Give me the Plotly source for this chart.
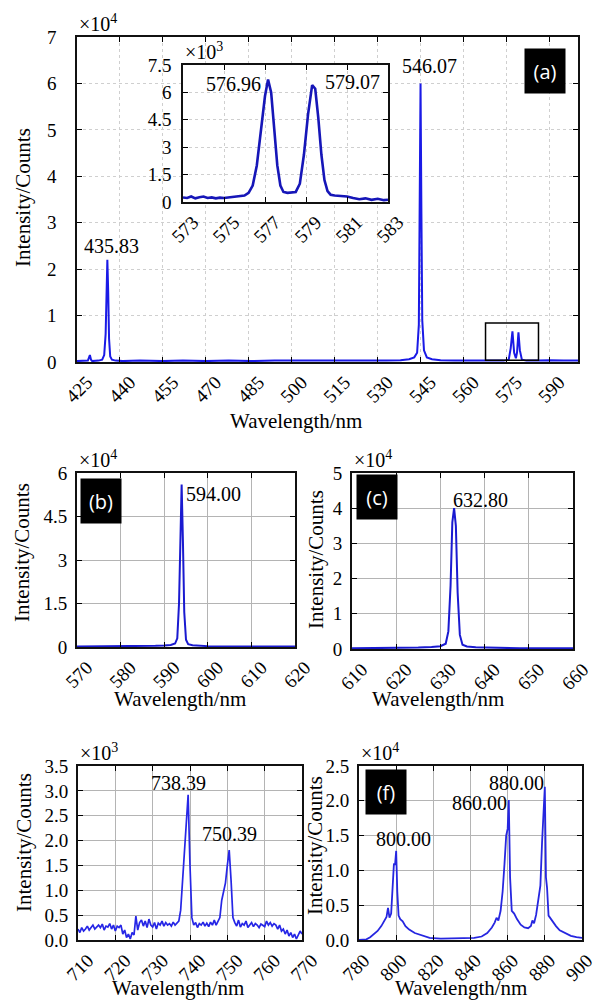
import plotly.graph_objects as go

SERIF = "Liberation Serif, Times New Roman, serif"
SANS = "Open Sans, Noto Sans, sans-serif"

# ---------------- data ----------------
# (a) main spectrum, intensity in 1e4 counts
a_x = [425.0, 427.0, 428.8, 429.5, 429.9, 430.3, 431.0, 432.5, 433.8, 434.5, 435.0, 435.3, 435.6, 435.9,
       436.2, 436.6, 437.2, 438.5, 441.0, 447.0, 455.0, 462.0, 470.0, 478.0, 486.0, 494.0, 502.0, 510.0,
       518.0, 526.0, 533.0, 538.0, 541.0, 542.8, 543.8, 544.4, 544.7, 545.0, 545.3, 545.6, 546.2, 547.2,
       549.0, 552.0, 557.0, 563.0, 569.0, 574.0, 575.8, 576.5, 577.1, 577.7, 578.3, 578.7, 579.2, 579.7,
       580.4, 582.0, 586.0, 590.0, 595.0, 600.0]
a_y = [0.02, 0.02, 0.03, 0.15, 0.05, 0.02, 0.02, 0.03, 0.05, 0.15, 0.6, 1.6, 2.2, 1.5,
       0.5, 0.12, 0.05, 0.03, 0.02, 0.03, 0.02, 0.03, 0.02, 0.03, 0.02, 0.03, 0.03, 0.02,
       0.03, 0.03, 0.03, 0.04, 0.06, 0.1, 0.2, 0.8, 3.0, 6.0, 3.2, 0.9, 0.25, 0.1,
       0.06, 0.04, 0.03, 0.03, 0.03, 0.03, 0.05, 0.3, 0.66, 0.2, 0.08, 0.2, 0.64, 0.25,
       0.05, 0.03, 0.03, 0.04, 0.03, 0.03]
a_ticks = [425, 440, 455, 470, 485, 500, 515, 530, 545, 560, 575, 590]

# (a) inset, intensity in 1e3 counts
in_x = [573.0, 573.2, 573.4, 573.6, 573.8, 574.0, 574.2, 574.4, 574.6, 574.8, 575.0, 575.2, 575.4, 575.6,
        575.8, 576.0, 576.2, 576.4, 576.6, 576.8, 577.0, 577.15, 577.3, 577.45, 577.6, 577.75, 577.9,
        578.1, 578.3, 578.5, 578.7, 578.9, 579.1, 579.3, 579.45, 579.6, 579.75, 579.9, 580.05, 580.2,
        580.4, 580.6, 580.8, 581.0, 581.3, 581.6, 581.9, 582.2, 582.5, 582.8, 583.0]
in_y = [0.25, 0.22, 0.3, 0.2, 0.26, 0.3, 0.22, 0.25, 0.2, 0.24, 0.22, 0.25, 0.26, 0.27,
        0.3, 0.35, 0.5, 0.9, 2.0, 4.0, 5.8, 6.7, 6.0, 4.0, 2.0, 0.9, 0.55,
        0.5, 0.52, 0.55, 1.0, 2.6, 4.8, 6.4, 6.2, 4.6, 2.6, 1.2, 0.6, 0.4,
        0.36, 0.35, 0.32, 0.3, 0.22, 0.15, 0.2, 0.12, 0.18, 0.1, 0.12]
in_ticks = [573, 575, 577, 579, 581, 583]
in_yticks = [0, 1.5, 3, 4.5, 6, 7.5]

# (b) 1e4 counts
b_x = [570, 575, 580, 585, 588, 590, 591.5, 592.5, 593.0, 593.4, 593.7, 594.0, 594.3, 594.6, 595.0,
       595.5, 596.5, 598, 600, 605, 610, 615, 620]
b_y = [0.02, 0.02, 0.02, 0.03, 0.04, 0.05, 0.07, 0.12, 0.3, 1.5, 3.8, 5.6, 3.6, 1.2, 0.25,
       0.1, 0.06, 0.04, 0.03, 0.02, 0.02, 0.02, 0.02]

# (c) 1e4 counts
c_x = [610, 615, 620, 625, 628, 630, 631.2, 631.8, 632.3, 632.7, 633.1, 633.5, 633.9, 634.4, 635,
       636, 638, 642, 648, 655, 660]
c_y = [0.02, 0.02, 0.03, 0.04, 0.06, 0.08, 0.15, 0.5, 1.8, 3.6, 4.0, 3.5, 1.6, 0.4, 0.12,
       0.07, 0.05, 0.03, 0.02, 0.02, 0.02]

# (e) 1e3 counts
e_x = [710.0, 710.5, 711.0, 711.5, 712.0, 712.5, 713.0, 713.5, 714.0, 714.5, 715.0, 715.5, 716.0, 716.5,
       717.0, 717.5, 718.0, 718.5, 719.0, 719.5, 720.0, 720.5, 721.0, 721.5, 722.0, 722.5, 723.0, 723.5,
       724.0, 724.5, 725.0, 725.5, 726.0, 726.5, 727.0, 727.5, 728.0, 728.5, 729.0, 729.5, 730.0, 730.5,
       731.0, 731.5, 732.0, 732.5, 733.0, 733.5, 734.0, 734.5, 735.0, 735.5, 736.0, 736.5, 737.0, 737.5,
       738.0, 738.5, 739.0, 739.5, 740.0, 740.5, 741.0, 741.5, 742.0, 742.5, 743.0, 743.5, 744.0, 744.5,
       745.0, 745.5, 746.0, 746.5, 747.0, 747.5, 748.0, 748.5, 749.0, 749.5, 750.0, 750.5, 751.0, 751.5,
       752.0, 752.5, 753.0, 753.5, 754.0, 754.5, 755.0, 755.5, 756.0, 756.5, 757.0, 757.5, 758.0, 758.5,
       759.0, 759.5, 760.0, 760.5, 761.0, 761.5, 762.0, 762.5, 763.0, 763.5, 764.0, 764.5, 765.0, 765.5,
       766.0, 766.5, 767.0, 767.5, 768.0, 768.5, 769.0, 769.5, 770.0]
e_y = [0.22, 0.15, 0.25, 0.18, 0.22, 0.28, 0.2, 0.24, 0.3, 0.22, 0.27, 0.3, 0.25, 0.32,
       0.2, 0.28, 0.26, 0.33, 0.22, 0.3, 0.18, 0.28, 0.25, 0.3, 0.12, 0.2, 0.05, 0.12,
       0.02, 0.15, 0.1, 0.48, 0.2, 0.35, 0.4, 0.28, 0.38, 0.25, 0.42, 0.3, 0.26, 0.35,
       0.22, 0.34, 0.3, 0.38, 0.28, 0.35, 0.3, 0.33, 0.28, 0.36, 0.3, 0.35, 0.38, 0.6,
       1.2, 1.6, 2.3, 2.92, 1.5, 0.45, 0.3, 0.35, 0.25, 0.33, 0.3, 0.36, 0.28, 0.34,
       0.27, 0.36, 0.3, 0.4, 0.3, 0.38, 0.45, 0.8, 1.0, 1.15, 1.5, 1.81, 1.2, 0.45,
       0.35, 0.28, 0.4, 0.26, 0.33, 0.3, 0.38, 0.25, 0.3, 0.35, 0.27, 0.33, 0.3, 0.25,
       0.32, 0.3, 0.27, 0.38, 0.3, 0.35, 0.28, 0.33, 0.3, 0.22, 0.3, 0.18, 0.22, 0.12,
       0.2, 0.08, 0.15, 0.05, 0.12, 0.02, 0.1, 0.18, 0.12]

# (f) 1e4 counts
f_x = [780, 782, 784, 786, 788, 790, 792, 793.5, 794.8, 795.6, 796.4, 797.3, 798.2, 798.8, 799.4, 800.0,
       800.6, 801.3, 802.2, 803.5, 805, 807, 810, 814, 818, 824, 830, 836, 842, 846, 849, 851.5, 853,
       854, 855, 856.2, 857.3, 858.3, 859.2, 860.0, 860.6, 861.3, 862.2, 863.5, 865, 867, 869, 871,
       872.5, 873.3, 874.2, 875.3, 876.5, 877.6, 878.5, 879.3, 880.0, 880.6, 881.2, 882, 883.2, 884.5,
       886, 888, 891, 894, 897, 900]
f_y = [0.0, 0.0, 0.01, 0.04, 0.08, 0.13, 0.2, 0.26, 0.33, 0.46, 0.32, 0.38, 0.9, 1.1, 1.08, 1.28,
       0.7, 0.35, 0.3, 0.27, 0.2, 0.15, 0.1, 0.06, 0.03, 0.02, 0.02, 0.02, 0.03, 0.05, 0.1, 0.18, 0.25,
       0.32, 0.28, 0.42, 0.7, 1.1, 1.5, 1.6, 2.01, 0.9, 0.42, 0.38, 0.3, 0.22, 0.18, 0.17,
       0.2, 0.28, 0.24, 0.36, 0.6, 0.78, 1.4, 1.8, 2.2, 0.9, 0.75, 0.35, 0.3, 0.26,
       0.2, 0.14, 0.1, 0.06, 0.04, 0.03]

# ---------------- figure ----------------
W, H = 598, 1000

def px_x(v):
    return v / W

def px_y(v):
    return 1 - v / H

fig = go.Figure()
fig.add_trace(go.Scatter(x=a_x, y=a_y, xaxis="x", yaxis="y", mode="lines",
                         line=dict(color="#1a1ae6", width=2)))
fig.add_trace(go.Scatter(x=in_x, y=in_y, xaxis="x2", yaxis="y2", mode="lines",
                         line=dict(color="#1616b8", width=2.6)))
fig.add_trace(go.Scatter(x=b_x, y=b_y, xaxis="x3", yaxis="y3", mode="lines",
                         line=dict(color="#1a1ad0", width=2)))
fig.add_trace(go.Scatter(x=c_x, y=c_y, xaxis="x4", yaxis="y4", mode="lines",
                         line=dict(color="#1a1ad0", width=2)))
fig.add_trace(go.Scatter(x=e_x, y=e_y, xaxis="x5", yaxis="y5", mode="lines",
                         line=dict(color="#2626e6", width=1.7)))
fig.add_trace(go.Scatter(x=f_x, y=f_y, xaxis="x6", yaxis="y6", mode="lines",
                         line=dict(color="#2626e0", width=1.8)))

tickfont = dict(family=SERIF, size=19, color="black")


def xax(domain, rng, tickvals, anchor, light=False, shift=10):
    return dict(domain=domain, range=rng, tickvals=tickvals, tickangle=-45, anchor=anchor,
                automargin=False, ticklabeloverflow="allow",
                ticks="inside", ticklen=5, tickwidth=1.2, tickcolor="black", mirror="allticks",
                showline=True, linecolor="#111", linewidth=1.5 if light else 2,
                showgrid=True, gridcolor="#cfcfcf" if light else "#b4b4b4",
                gridwidth=1 if light else 1.4, griddash="dot" if light else "solid",
                zeroline=False, tickfont=tickfont, ticklabelstandoff=0, ticklabelshift=shift)


def yax(domain, rng, tickvals, anchor, ticktext=None, light=False, standoff=4):
    d = dict(domain=domain, range=rng, tickvals=tickvals, anchor=anchor, automargin=False,
             ticklabeloverflow="allow",
             ticks="inside", ticklen=5, tickwidth=1.2, tickcolor="black", mirror="allticks",
             showline=True, linecolor="#111", linewidth=1.5 if light else 2,
             showgrid=True, gridcolor="#cfcfcf" if light else "#b4b4b4",
             gridwidth=1 if light else 1.4, griddash="dot" if light else "solid",
             zeroline=False, tickfont=tickfont, ticklabelstandoff=standoff)
    if ticktext is not None:
        d["ticktext"] = ticktext
    return d


fig.update_layout(
    template="none",
    width=W, height=H, margin=dict(l=0, r=0, t=0, b=0, pad=0, autoexpand=False),
    paper_bgcolor="white", plot_bgcolor="white", showlegend=False,
    font=dict(family=SERIF, size=19, color="black"),
    xaxis=xax([px_x(77), px_x(578)], [425, 600], a_ticks, "y", light=True),
    yaxis=yax([px_y(362), px_y(37)], [0, 7], [0, 1, 2, 3, 4, 5, 6, 7], "x", light=True, standoff=15),
    xaxis2=xax([px_x(183), px_x(388)], [573, 583], in_ticks, "y2", light=True),
    yaxis2=yax([px_y(202), px_y(65)], [0, 7.5], in_yticks, "x2",
               ticktext=["0", "1.5", "3", "4.5", "6", "7.5"], light=True, standoff=6),
    xaxis3=xax([px_x(77), px_x(295)], [570, 620], [570, 580, 590, 600, 610, 620], "y3"),
    yaxis3=yax([px_y(647), px_y(473)], [0, 6], [0, 1.5, 3, 4.5, 6], "x3",
               ticktext=["0", "1.5", "3", "4.5", "6"]),
    xaxis4=xax([px_x(352), px_x(573)], [610, 660], [610, 620, 630, 640, 650, 660], "y4"),
    yaxis4=yax([px_y(649), px_y(473)], [0, 5], [0, 1, 2, 3, 4, 5], "x4"),
    xaxis5=xax([px_x(78), px_x(302)], [710, 770], [710, 720, 730, 740, 750, 760, 770], "y5"),
    yaxis5=yax([px_y(940), px_y(766)], [0, 3.5], [0, 0.5, 1, 1.5, 2, 2.5, 3, 3.5], "x5",
               ticktext=["0.0", "0.5", "1.0", "1.5", "2.0", "2.5", "3.0", "3.5"]),
    xaxis6=xax([px_x(359), px_x(582)], [780, 900], [780, 800, 820, 840, 860, 880, 900], "y6",
               shift=5),
    yaxis6=yax([px_y(940), px_y(766)], [0, 2.5], [0, 0.5, 1, 1.5, 2, 2.5], "x6",
               ticktext=["0.0", "0.5", "1.0", "1.5", "2.0", "2.5"]),
)

# inset background and zoom box
fig.add_shape(type="rect", xref="x2", yref="y2", x0=573, x1=583, y0=0, y1=7.5,
              fillcolor="white", line=dict(width=0), layer="below")
fig.add_shape(type="rect", xref="x", yref="y", x0=567.7, x1=586.2, y0=0.04, y1=0.84,
              line=dict(color="black", width=1.5), fillcolor="rgba(0,0,0,0)")

lab = dict(family=SERIF, size=20, color="black")
ttl = dict(family=SERIF, size=21, color="black")
ann = []

# peak labels
peaks = [
    ("x", "y", 548.1, 6.38, "546.07"),
    ("x", "y", 437.0, 2.5, "435.83"),
    ("x2", "y2", 575.45, 6.45, "576.96"),
    ("x2", "y2", 581.25, 6.55, "579.07"),
    ("x3", "y3", 601.4, 5.28, "594.00"),
    ("x4", "y4", 639.0, 4.24, "632.80"),
    ("x5", "y5", 736.8, 3.16, "738.39"),
    ("x5", "y5", 750.7, 2.13, "750.39"),
    ("x6", "y6", 804.2, 1.45, "800.00"),
    ("x6", "y6", 844.6, 1.97, "860.00"),
    ("x6", "y6", 864.5, 2.26, "880.00"),
]
for xr, yr, x, y, t in peaks:
    ann.append(dict(xref=xr, yref=yr, x=x, y=y, text=t, showarrow=False, font=lab,
                    xanchor="center", yanchor="middle"))

# exponent labels
for xr, yr, t in [("x", "y", "×10<sup>4</sup>"), ("x2", "y2", "×10<sup>3</sup>"),
                  ("x3", "y3", "×10<sup>4</sup>"), ("x4", "y4", "×10<sup>4</sup>"),
                  ("x5", "y5", "×10<sup>3</sup>"), ("x6", "y6", "×10<sup>4</sup>")]:
    ann.append(dict(xref=xr + " domain", yref=yr + " domain", x=0, y=1, text=t, showarrow=False,
                    font=lab, xanchor="left", yanchor="bottom", yshift=0))

# axis titles
for x, y in [(23, 198), (22, 553), (316, 560), (24, 843), (315, 846)]:
    ann.append(dict(xref="paper", yref="paper", x=px_x(x), y=px_y(y), text="Intensity/Counts",
                    textangle=-90, showarrow=False, font=ttl, xanchor="center", yanchor="middle"))
for x, y in [(296, 421), (180, 699), (438, 699), (178, 988), (461, 988)]:
    ann.append(dict(xref="paper", yref="paper", x=px_x(x), y=px_y(y), text="Wavelength/nm",
                    showarrow=False, font=ttl, xanchor="center", yanchor="middle"))

# panel tags
for x, y, t in [(545, 71, "(a)"), (101, 501, "(b)"), (377, 497, "(c)"), (386, 792, "(f)")]:
    ann.append(dict(xref="paper", yref="paper", x=px_x(x), y=px_y(y), text=t, showarrow=False,
                    font=dict(family=SANS, size=20, color="white"), bgcolor="black",
                    width=38, height=42, xanchor="center", yanchor="middle"))

fig.update_layout(annotations=ann)
fig.write_html("out.html", config={"displayModeBar": False},
               post_script="document.body.style.margin='0';document.body.style.overflow='hidden';")
